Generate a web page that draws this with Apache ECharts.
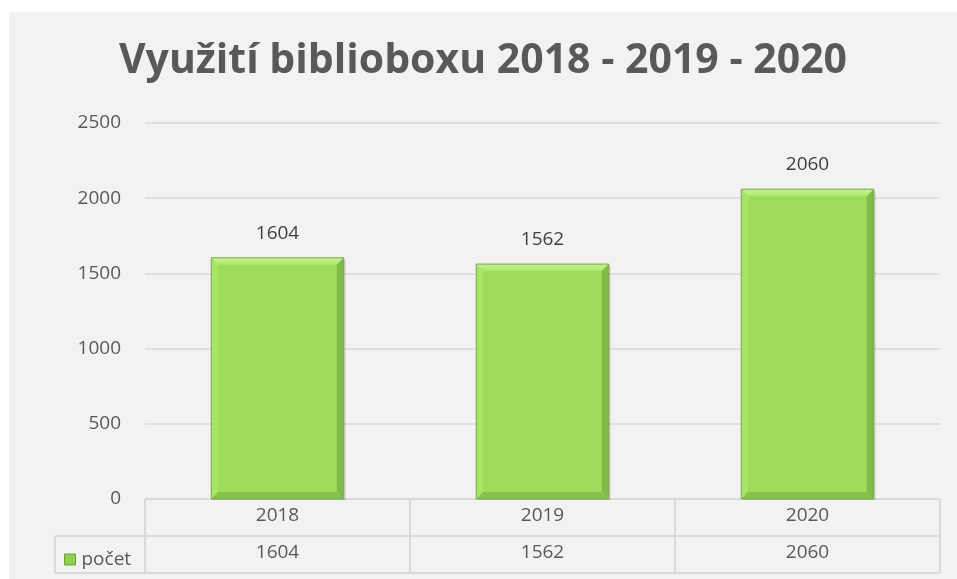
<!DOCTYPE html>
<html>
<head>
<meta charset="utf-8">
<script src="https://cdn.jsdelivr.net/npm/echarts@6/dist/echarts.min.js"></script>
<style>
  html, body { margin: 0; padding: 0; background: #ffffff; }
  #chart { position: absolute; left: 9px; top: 12px; width: 948px; height: 567px; background: #f2f2f2; }
</style>
</head>
<body>
<div id="chart"></div>
<script>
// data
var titleText = "Využití biblioboxu 2018 - 2019 - 2020";
var seriesName = "počet";
var categories = ["2018", "2019", "2020"];
var values = [1604, 1562, 2060];
var yTicks = [0, 500, 1000, 1500, 2000, 2500];

var fontFamily = "'Open Sans', 'Noto Sans', sans-serif";
var textColor = "#595959";
var lineColor = "#d9d9d9";
var labelSize = 19;

// grid edges inside the chart div (div is offset 9,12)
var gridLeft = 136, gridRight = 948 - 931, gridTop = 111, gridBottom = 567 - 487;
var rowH = 37;

var chartDom = document.getElementById("chart");
var myChart = echarts.init(chartDom);

// bevelled bar drawn through the category / value scales
function renderBar(params, api) {
  var idx = api.value(0);
  var v = api.value(1);
  var top = api.coord([idx, v]);
  var base = api.coord([idx, 0]);
  var w = api.size([1, 0])[0] * 0.5;
  var l = top[0] - w / 2, r = top[0] + w / 2, y0 = top[1], y1 = base[1];
  var b = 7;
  return {
    type: "group",
    children: [
      {
        type: "rect",
        shape: { x: l + 2, y: y0 + 2, width: w, height: y1 - y0 - 1 },
        style: { fill: "rgba(0,0,0,0.12)" }
      },
      {
        type: "rect",
        shape: { x: l, y: y0, width: w, height: y1 - y0 },
        style: { fill: "#9edc5b" }
      },
      {
        type: "polygon",
        shape: { points: [[l, y0], [r, y0], [r - b, y0 + b], [l + b, y0 + b]] },
        style: {
          fill: new echarts.graphic.LinearGradient(0, 0, 0, 1, [
            { offset: 0, color: "#c6f28e" },
            { offset: 1, color: "#aee86c" }
          ])
        }
      },
      {
        type: "polygon",
        shape: { points: [[l, y0], [l + b, y0 + b], [l + b, y1 - b], [l, y1]] },
        style: { fill: "#a7e565" }
      },
      {
        type: "polygon",
        shape: { points: [[r, y0], [r, y1], [r - b, y1 - b], [r - b, y0 + b]] },
        style: { fill: "#7fbb48" }
      },
      {
        type: "polygon",
        shape: { points: [[l, y1], [r, y1], [r - b, y1 - b], [l + b, y1 - b]] },
        style: { fill: "#86c24e" }
      },
      {
        type: "rect",
        shape: { x: l, y: y0, width: w, height: y1 - y0 },
        style: { fill: "none", stroke: "#7aa84a", lineWidth: 1 }
      },
      {
        type: "text",
        style: {
          text: String(v),
          x: top[0],
          y: y0 - 15,
          align: "center",
          verticalAlign: "bottom",
          fill: "#404040",
          font: labelSize + "px " + fontFamily
        }
      }
    ]
  };
}

// data table lines
var tableW = 948 - gridLeft - gridRight;
var colW = tableW / categories.length;
var tableTop = 567 - gridBottom;
var tableLines = [];
for (var i = 0; i <= categories.length; i++) {
  tableLines.push({
    type: "line",
    shape: { x1: gridLeft + i * colW, y1: tableTop, x2: gridLeft + i * colW, y2: tableTop + 2 * rowH },
    style: { stroke: lineColor, lineWidth: 2 }
  });
}
tableLines.push(
  { type: "line", shape: { x1: 46, y1: tableTop + rowH, x2: gridLeft + tableW, y2: tableTop + rowH }, style: { stroke: lineColor, lineWidth: 2 } },
  { type: "line", shape: { x1: 46, y1: tableTop + 2 * rowH, x2: gridLeft + tableW, y2: tableTop + 2 * rowH }, style: { stroke: lineColor, lineWidth: 2 } },
  { type: "line", shape: { x1: 46, y1: tableTop + rowH, x2: 46, y2: tableTop + 2 * rowH }, style: { stroke: lineColor, lineWidth: 2 } },
  { type: "line", shape: { x1: gridLeft, y1: tableTop, x2: gridLeft + tableW, y2: tableTop }, style: { stroke: lineColor, lineWidth: 2 } }
);

var option = {
  animation: false,
  backgroundColor: "#f2f2f2",
  title: {
    text: titleText,
    left: "center",
    top: 24,
    padding: [5, 0, 5, 14],
    textStyle: {
      fontFamily: fontFamily,
      fontSize: 41,
      fontWeight: "bold",
      color: textColor
    }
  },
  legend: {
    left: 50,
    top: tableTop + rowH + 9,
    icon: "rect",
    itemWidth: 11,
    itemHeight: 11,
    itemGap: 4,
    textStyle: { fontFamily: fontFamily, fontSize: labelSize, color: textColor, padding: [0, 0, 0, 1] },
    data: [{ name: seriesName, itemStyle: { color: "#8fd14f", borderColor: "#6aa336", borderWidth: 1 } }]
  },
  grid: { left: gridLeft, right: gridRight, top: gridTop, bottom: gridBottom },
  xAxis: [
    {
      type: "category",
      data: categories,
      axisTick: { show: false },
      axisLine: { show: false },
      axisLabel: { color: textColor, fontFamily: fontFamily, fontSize: labelSize, margin: 7 }
    },
    {
      type: "category",
      position: "bottom",
      offset: rowH,
      data: values.map(String),
      axisTick: { show: false },
      axisLine: { show: false },
      axisLabel: { color: textColor, fontFamily: fontFamily, fontSize: labelSize, margin: 7 }
    }
  ],
  yAxis: {
    type: "value",
    min: yTicks[0],
    max: yTicks[yTicks.length - 1],
    interval: yTicks[1] - yTicks[0],
    axisLine: { show: false },
    axisTick: { show: false },
    splitLine: { lineStyle: { color: lineColor, width: 1.5 } },
    axisLabel: {
      color: textColor, fontFamily: fontFamily, fontSize: labelSize, margin: 24,
      formatter: function (v) { return String(v); }
    }
  },
  graphic: tableLines,
  series: [
    {
      name: seriesName,
      type: "custom",
      xAxisIndex: 0,
      renderItem: renderBar,
      data: values.map(function (v, i) { return [i, v]; }),
      z: 5
    }
  ]
};
myChart.setOption(option, true);
</script>
</body>
</html>
